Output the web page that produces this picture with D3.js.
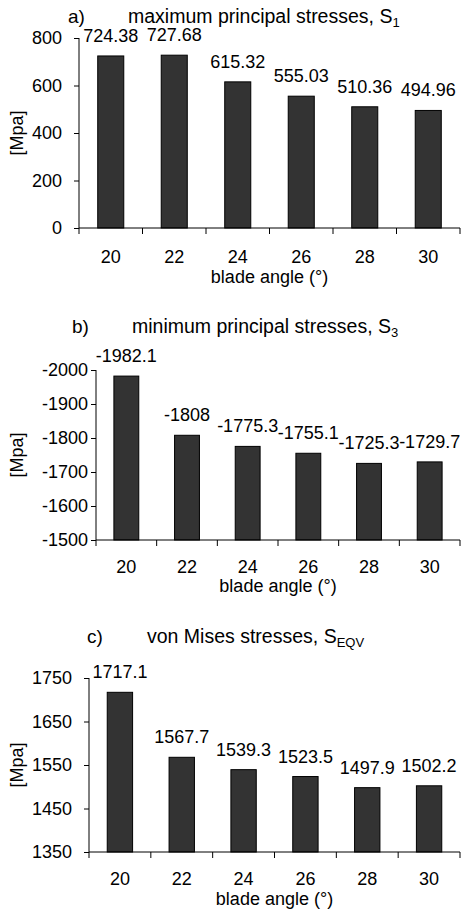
<!DOCTYPE html>
<html>
<head>
<meta charset="utf-8">
<script src="https://cdn.jsdelivr.net/npm/d3@7"></script>
<style>
  body { margin: 0; background: #fff; }
  svg { display: block; }
</style>
</head>
<body>
<svg id="chart" width="463" height="913"></svg>
<script>
var angles = ["20", "22", "24", "26", "28", "30"];
var s1Values = [724.38, 727.68, 615.32, 555.03, 510.36, 494.96];
var s3Values = [-1982.1, -1808, -1775.3, -1755.1, -1725.3, -1729.7];
var seqvValues = [1717.1, 1567.7, 1539.3, 1523.5, 1497.9, 1502.2];
var s1Ticks = [0, 200, 400, 600, 800];
var s3Ticks = [-2000, -1900, -1800, -1700, -1600, -1500];
var seqvTicks = [1350, 1450, 1550, 1650, 1750];

var FONT = "'Liberation Sans', Arial, sans-serif";

var svg = d3.select("#chart")
  .attr("font-family", FONT);

var drawChart = function(cfg)
{
  var g = svg.append("g");

  // bars centred in equal category slots, Excel style
  var xScale = d3.scaleBand()
        .domain(angles)
        .range([cfg.left, 460])
        .paddingInner(0.59)
        .paddingOuter(0.295);

  var yScale = d3.scaleLinear()
        .domain(cfg.domain)
        .range([cfg.bottom, cfg.top]);

  // bars
  g.selectAll("rect.bar")
    .data(cfg.values)
    .enter()
    .append("rect")
    .attr("class", "bar")
    .attr("x", function(d, i){return xScale(angles[i]);})
    .attr("width", xScale.bandwidth())
    .attr("y", function(d){return Math.min(yScale(d), yScale(cfg.domain[0]));})
    .attr("height", function(d){return Math.abs(yScale(cfg.domain[0]) - yScale(d));})
    .attr("fill", "#333333")
    .attr("stroke", "#000")
    .attr("stroke-width", 1);

  // value labels
  g.selectAll("text.val")
    .data(cfg.values)
    .enter()
    .append("text")
    .attr("class", "val")
    .attr("x", function(d, i){return xScale(angles[i]) + xScale.bandwidth()/2;})
    .attr("y", function(d){return yScale(d) - 14;})
    .attr("text-anchor", "middle")
    .attr("font-size", 18)
    .attr("fill", "#000")
    .text(function(d){return String(d);});

  // y axis
  var yAxis = d3.axisLeft(yScale)
        .tickValues(cfg.ticks)
        .tickSize(5)
        .tickPadding(cfg.yPad)
        .tickFormat(function(d){return String(d);});

  var yG = g.append("g")
    .attr("transform", "translate(" + cfg.left + ",0)")
    .call(yAxis)
    .attr("font-family", FONT)
    .attr("font-size", 18);
  yG.select(".domain").attr("d", "M0," + cfg.top + "V" + cfg.bottom).attr("stroke", "#000");
  yG.selectAll("text").attr("fill", "#000");
  yG.selectAll("line").attr("stroke", "#000");

  // x axis: labels at category centres, tick marks between categories
  var xAxis = d3.axisBottom(xScale)
        .tickSize(0)
        .tickPadding(cfg.xPad);

  var xG = g.append("g")
    .attr("transform", "translate(0," + cfg.bottom + ")")
    .call(xAxis)
    .attr("font-family", FONT)
    .attr("font-size", 18);
  xG.select(".domain").attr("d", "M" + cfg.left + ",0H460").attr("stroke", "#000");
  xG.selectAll("text").attr("fill", "#000");

  var step = xScale.step();
  var bounds = d3.range(angles.length + 1).map(function(i){return cfg.left + i*step;});
  xG.selectAll("line.sep")
    .data(bounds)
    .enter()
    .append("line")
    .attr("class", "sep")
    .attr("x1", function(d){return d;})
    .attr("x2", function(d){return d;})
    .attr("y1", 0)
    .attr("y2", 6)
    .attr("stroke", "#000");

  // axis titles
  g.append("text")
    .attr("x", (cfg.left + 460)/2)
    .attr("y", cfg.xLabelY)
    .attr("text-anchor", "middle")
    .attr("font-size", 18)
    .text("blade angle (°)");

  g.append("text")
    .attr("transform", "translate(23," + ((cfg.top + cfg.bottom)/2) + ") rotate(-90)")
    .attr("text-anchor", "middle")
    .attr("font-size", 18)
    .text("[Mpa]");

  // chart title
  g.append("text")
    .attr("x", cfg.letterX)
    .attr("y", cfg.titleY)
    .attr("font-size", 19)
    .text(cfg.letter);

  var t = g.append("text")
    .attr("x", cfg.titleX)
    .attr("y", cfg.titleY)
    .attr("font-size", 19.5)
    .text(cfg.title);
  t.append("tspan")
    .attr("font-size", 13)
    .attr("dy", 4)
    .text(cfg.sub);
};

drawChart({
  values: s1Values, ticks: s1Ticks, domain: [0, 800],
  left: 79, top: 38, bottom: 228, yPad: 12, xPad: 22, xLabelY: 283,
  letter: "a)", letterX: 68, titleX: 128, titleY: 23,
  title: "maximum principal stresses, S", sub: "1"
});

drawChart({
  values: s3Values, ticks: s3Ticks, domain: [-1500, -2000],
  left: 96, top: 370, bottom: 540, yPad: 3, xPad: 20, xLabelY: 592,
  letter: "b)", letterX: 72, titleX: 132, titleY: 333,
  title: "minimum principal stresses, S", sub: "3"
});

drawChart({
  values: seqvValues, ticks: seqvTicks, domain: [1350, 1750],
  left: 89, top: 678, bottom: 852, yPad: 12, xPad: 20, xLabelY: 905,
  letter: "c)", letterX: 87, titleX: 147, titleY: 643,
  title: "von Mises stresses, S", sub: "EQV"
});
</script>
</body>
</html>
